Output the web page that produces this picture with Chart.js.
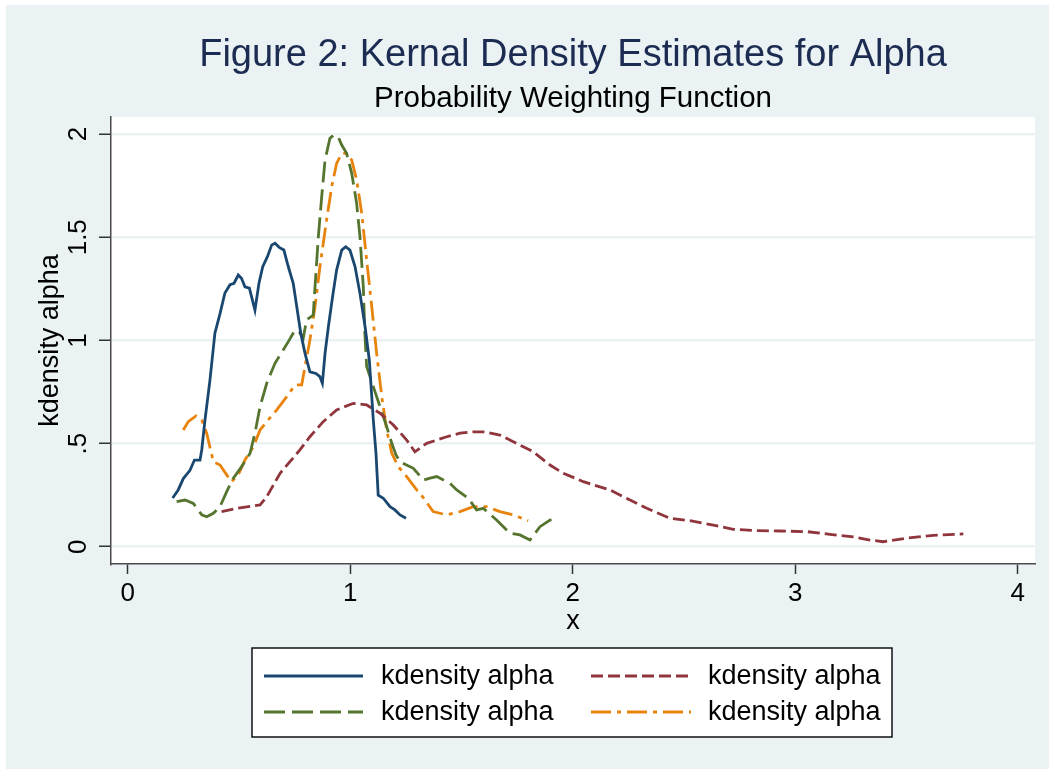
<!DOCTYPE html>
<html>
<head>
<meta charset="utf-8">
<script src="https://cdn.jsdelivr.net/npm/chart.js@4"></script>
<style>
    body { margin: 0; background: #fff; }
    #chart { width: 1049px; height: 770px; }
</style>
</head>
<body>
<div id="chart"><canvas id="myChart" width="1049" height="770"></canvas></div>
<script>
// tick values and labels
const xTicks = [0, 1, 2, 3, 4];
const yTicks = [0, 0.5, 1, 1.5, 2];
const yTickLabels = ['0', '.5', '1', '1.5', '2'];
const legendLabels = ['kdensity alpha', 'kdensity alpha', 'kdensity alpha', 'kdensity alpha'];

// series 1 (navy, solid)
const navyX = [0.202, 0.227, 0.25, 0.28, 0.30, 0.325, 0.333, 0.347, 0.37, 0.392, 0.415, 0.437, 0.46, 0.478, 0.497, 0.512, 0.527, 0.547, 0.572, 0.59, 0.607, 0.628, 0.647, 0.662, 0.681, 0.702, 0.722, 0.744, 0.76, 0.778, 0.797, 0.819, 0.846, 0.864, 0.875, 0.887, 0.902, 0.921, 0.939, 0.962, 0.98, 0.999, 1.022, 1.044, 1.067, 1.086, 1.104, 1.116, 1.126, 1.149, 1.179, 1.201, 1.224, 1.251];
const navyY = [0.236, 0.275, 0.33, 0.37, 0.42, 0.42, 0.47, 0.61, 0.81, 1.035, 1.13, 1.23, 1.27, 1.277, 1.317, 1.30, 1.26, 1.253, 1.147, 1.277, 1.357, 1.406, 1.462, 1.471, 1.451, 1.438, 1.357, 1.277, 1.163, 1.034, 0.937, 0.848, 0.84, 0.824, 0.792, 0.937, 1.066, 1.212, 1.341, 1.438, 1.454, 1.438, 1.357, 1.228, 1.066, 0.905, 0.614, 0.453, 0.25, 0.235, 0.194, 0.178, 0.154, 0.138];

// series 2 (maroon, dashed)
const maroonX = [0.422, 0.49, 0.595, 0.625, 0.685, 0.774, 0.819, 0.879, 0.939, 1.014, 1.074, 1.134, 1.194, 1.254, 1.291, 1.344, 1.434, 1.494, 1.553, 1.598, 1.673, 1.748, 1.823, 1.898, 1.958, 2.048, 2.168, 2.258, 2.333, 2.437, 2.527, 2.632, 2.722, 2.827, 2.932, 3.052, 3.156, 3.261, 3.336, 3.396, 3.501, 3.621, 3.756];
const maroonY = [0.17, 0.186, 0.202, 0.242, 0.356, 0.469, 0.533, 0.606, 0.663, 0.695, 0.687, 0.647, 0.59, 0.517, 0.46, 0.501, 0.533, 0.55, 0.557, 0.557, 0.541, 0.501, 0.46, 0.396, 0.356, 0.315, 0.275, 0.226, 0.186, 0.138, 0.126, 0.105, 0.084, 0.078, 0.076, 0.073, 0.06, 0.048, 0.032, 0.024, 0.041, 0.055, 0.062];

// series 3 (green, long dash)
const greenX = [0.22, 0.258, 0.295, 0.333, 0.355, 0.385, 0.415, 0.445, 0.475, 0.512, 0.55, 0.572, 0.595, 0.625, 0.662, 0.699, 0.722, 0.752, 0.771, 0.789, 0.804, 0.834, 0.842, 0.857, 0.872, 0.887, 0.909, 0.927, 0.947, 0.962, 0.984, 1.007, 1.029, 1.044, 1.059, 1.066, 1.074, 1.104, 1.134, 1.164, 1.187, 1.206, 1.224, 1.284, 1.329, 1.359, 1.389, 1.449, 1.479, 1.531, 1.568, 1.598, 1.658, 1.718, 1.763, 1.808, 1.853, 1.898, 1.928];
const greenY = [0.218, 0.226, 0.21, 0.154, 0.145, 0.162, 0.194, 0.267, 0.332, 0.388, 0.453, 0.55, 0.679, 0.792, 0.889, 0.953, 0.994, 1.05, 1.042, 1.01, 1.099, 1.123, 1.26, 1.503, 1.697, 1.874, 1.98, 1.996, 1.985, 1.947, 1.907, 1.81, 1.665, 1.503, 1.26, 1.034, 0.873, 0.776, 0.679, 0.582, 0.501, 0.445, 0.412, 0.38, 0.323, 0.332, 0.34, 0.307, 0.275, 0.235, 0.178, 0.186, 0.129, 0.065, 0.057, 0.032, 0.097, 0.129, 0.133];

// series 4 (orange, dash-dot)
const orangeX = [0.25, 0.272, 0.307, 0.333, 0.355, 0.385, 0.415, 0.445, 0.467, 0.497, 0.527, 0.565, 0.595, 0.625, 0.67, 0.715, 0.752, 0.782, 0.797, 0.819, 0.842, 0.864, 0.894, 0.917, 0.939, 0.962, 0.984, 1.007, 1.029, 1.052, 1.074, 1.097, 1.119, 1.142, 1.164, 1.187, 1.216, 1.254, 1.299, 1.314, 1.373, 1.434, 1.494, 1.553, 1.613, 1.673, 1.733, 1.8];
const orangeY = [0.566, 0.606, 0.634, 0.614, 0.55, 0.412, 0.396, 0.348, 0.315, 0.348, 0.42, 0.485, 0.566, 0.606, 0.663, 0.727, 0.784, 0.784, 0.873, 1.002, 1.163, 1.357, 1.584, 1.745, 1.858, 1.907, 1.907, 1.874, 1.778, 1.616, 1.39, 1.163, 0.937, 0.727, 0.566, 0.453, 0.388, 0.34, 0.275, 0.259, 0.17, 0.154, 0.17, 0.194, 0.194, 0.17, 0.154, 0.126];

const FONT = '"Liberation Sans", Arial, Helvetica, sans-serif';
Chart.defaults.font.family = FONT;
Chart.defaults.color = '#000';

function toPoints(xs, ys) {
    return xs.map((x, i) => ({x: x, y: ys[i]}));
}

function series(label, xs, ys, color, dash) {
    return {
        label: label,
        data: toPoints(xs, ys),
        borderColor: color,
        backgroundColor: color,
        borderWidth: 2.8,
        borderDash: dash,
        pointRadius: 0,
        fill: false,
        tension: 0
    };
}

// backgrounds, rotated y tick labels and the boxed legend
const stataPlugin = {
    id: 'stata',
    beforeDraw(chart) {
        const ctx = chart.ctx;
        const a = chart.chartArea;
        ctx.save();
        ctx.fillStyle = '#fff';
        ctx.fillRect(0, 0, chart.width, chart.height);
        ctx.fillStyle = '#eaf2f3';
        ctx.fillRect(6, 5, chart.width - 6, chart.height - 6);
        ctx.fillStyle = '#fff';
        ctx.fillRect(a.left, a.top, a.right - a.left, a.bottom - a.top);
        ctx.restore();
    },
    afterDraw(chart) {
        const ctx = chart.ctx;
        const yScale = chart.scales.y;
        ctx.save();
        ctx.font = '26px ' + FONT;
        ctx.fillStyle = '#000';
        ctx.textAlign = 'center';
        ctx.textBaseline = 'middle';
        yTicks.forEach((v, i) => {
            ctx.save();
            ctx.translate(79, yScale.getPixelForValue(v));
            ctx.rotate(-Math.PI / 2);
            ctx.fillText(yTickLabels[i], 0, 0);
            ctx.restore();
        });

        // legend box
        ctx.fillStyle = '#fff';
        ctx.fillRect(252, 648, 640, 89);
        ctx.strokeStyle = '#111';
        ctx.lineWidth = 1.5;
        ctx.strokeRect(252, 648, 640, 89);

        const rows = [676, 712];
        const cols = [[264, 363, 381], [591, 691, 708]];
        ctx.font = '27px ' + FONT;
        ctx.textAlign = 'left';
        ctx.textBaseline = 'alphabetic';
        chart.data.datasets.forEach((ds, i) => {
            const r = rows[Math.floor(i / 2)];
            const c = cols[i % 2];
            ctx.strokeStyle = ds.borderColor;
            ctx.lineWidth = 2.8;
            ctx.setLineDash(ds.borderDash);
            ctx.beginPath();
            ctx.moveTo(c[0], r);
            ctx.lineTo(c[1], r);
            ctx.stroke();
            ctx.setLineDash([]);
            ctx.fillStyle = '#000';
            ctx.fillText(legendLabels[i], c[2], r + 8);
        });
        ctx.restore();
    }
};

const config = {
    type: 'line',
    data: {
        datasets: [
            series(legendLabels[0], navyX, navyY, '#1a476f', []),
            series(legendLabels[1], maroonX, maroonY, '#90353b', [12, 5]),
            series(legendLabels[2], greenX, greenY, '#55752f', [21, 7]),
            series(legendLabels[3], orangeX, orangeY, '#e8830c', [20, 6, 4, 6])
        ]
    },
    options: {
        responsive: false,
        devicePixelRatio: 1,
        animation: false,
        layout: {
            padding: {top: 0, right: 14, bottom: 132, left: 0}
        },
        plugins: {
            legend: {display: false},
            tooltip: {enabled: false},
            title: {
                display: true,
                fullSize: false,
                text: 'Figure 2: Kernal Density Estimates for Alpha',
                color: '#1c2b52',
                font: {size: 38, weight: 'normal'},
                padding: {top: 33, bottom: 0}
            },
            subtitle: {
                display: true,
                fullSize: false,
                text: 'Probability Weighting Function',
                color: '#000',
                font: {size: 29.5, weight: 'normal'},
                padding: {top: 3, bottom: 0}
            }
        },
        scales: {
            x: {
                type: 'linear',
                min: -0.075,
                max: 4.078,
                afterFit: s => { s.height = 74; },
                ticks: {stepSize: 1, includeBounds: false, font: {size: 26}, color: '#000', padding: 4,
                        callback: v => xTicks.includes(v) ? String(v) : ''},
                grid: {drawOnChartArea: false, drawTicks: true, tickLength: 10, tickColor: '#333', tickWidth: 1.5, color: 'rgba(0,0,0,0)'},
                border: {display: true, color: '#4a4a4a', width: 1.5},
                title: {display: true, text: 'x', font: {size: 27}, color: '#000', padding: {top: 0, bottom: 0}}
            },
            y: {
                type: 'linear',
                min: -0.084,
                max: 2.083,
                afterFit: s => { s.width = 111; },
                ticks: {stepSize: 0.5, includeBounds: false, display: false},
                grid: {drawOnChartArea: true, drawTicks: true, tickLength: 12, color: '#eaf2f3', lineWidth: 2.5, tickColor: '#333', tickWidth: 1.5},
                border: {display: true, color: '#4a4a4a', width: 1.5},
                title: {display: true, text: 'kdensity alpha', font: {size: 27}, color: '#000', padding: {top: 34, bottom: 0}}
            }
        }
    },
    plugins: [stataPlugin]
};

new Chart(document.getElementById('myChart'), config);
</script>
</body>
</html>
